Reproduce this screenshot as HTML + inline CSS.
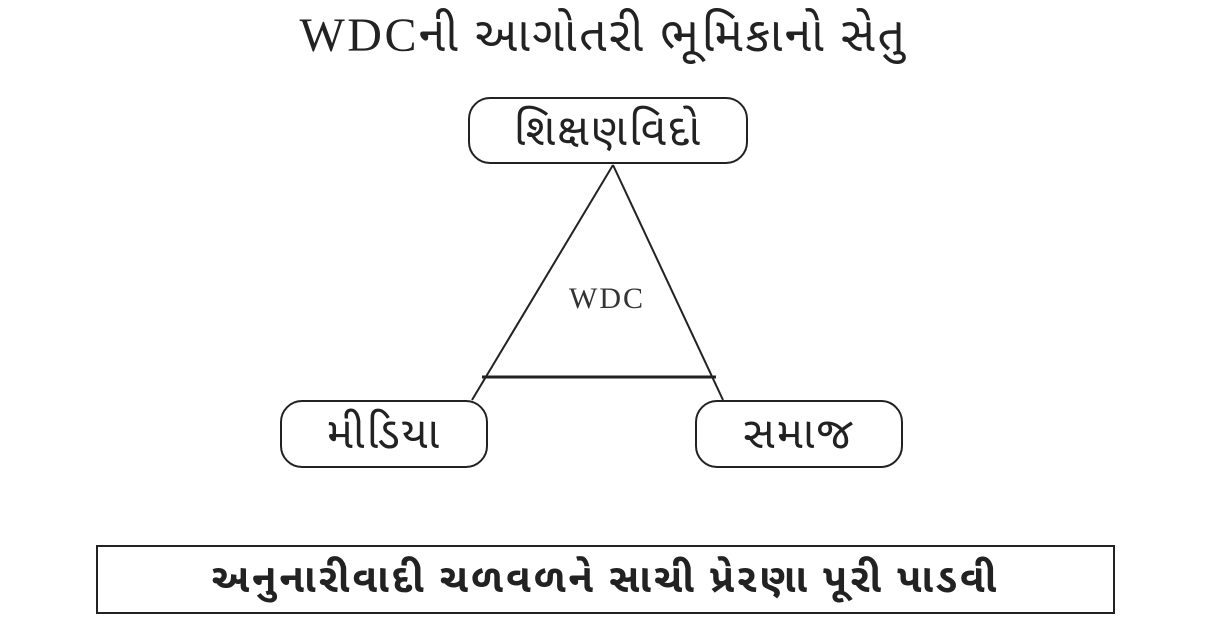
<!DOCTYPE html>
<html><head><meta charset="utf-8"><style>
body{margin:0;width:1207px;height:634px;background:#fff;overflow:hidden;position:relative;font-family:"Liberation Serif","Noto Sans Gujarati","Lohit Gujarati",serif;color:#222}
.t{position:absolute;white-space:nowrap;text-align:center}
.box{position:absolute;border:2px solid #222;border-radius:22px;box-sizing:border-box;display:flex;align-items:center;justify-content:center;font-size:44px;padding-top:6px;letter-spacing:2px}
</style></head><body>
<div class="t" style="left:0;width:1207px;top:8px;font-size:48px;line-height:56px;letter-spacing:2.5px">WDCની આગોતરી ભૂમિકાનો સેતુ</div>
<div class="box" style="left:468px;top:97px;width:280px;height:67px">શિક્ષણવિદો</div>
<div class="box" style="left:280px;top:400px;width:208px;height:68px">મીડિયા</div>
<div class="box" style="left:695px;top:400px;width:208px;height:68px">સમાજ</div>
<svg style="position:absolute;left:0;top:0" width="1207" height="634">
<line x1="613" y1="165" x2="472" y2="400" stroke="#222" stroke-width="2"/>
<line x1="613" y1="165" x2="723" y2="400" stroke="#222" stroke-width="2"/>
<line x1="482" y1="377" x2="716" y2="377" stroke="#222" stroke-width="3"/>
</svg>
<div class="t" style="left:547px;width:120px;top:281px;font-size:30px;line-height:36px;letter-spacing:2px;color:#333">WDC</div>
<div style="position:absolute;left:96px;top:545px;width:1019px;height:69px;border:2px solid #222;box-sizing:border-box;display:flex;align-items:center;justify-content:center;font-size:40px;font-weight:bold;letter-spacing:3px;padding-top:4px">અનુનારીવાદી ચળવળને સાચી પ્રેરણા પૂરી પાડવી</div>
</body></html>
